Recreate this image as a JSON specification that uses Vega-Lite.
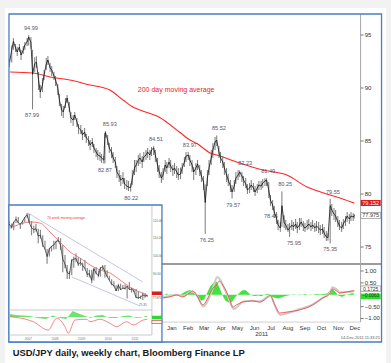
{
"$schema":"https://vega.github.io/schema/vega-lite/v6.json",
"width":391,"height":363,
"autosize":{"type":"fit","contains":"padding"},
"padding":0,
"background":"#f2f2f2",
"config":{"view":{"stroke":null},"font":"Liberation Sans"},
"datasets":{
"price":[
{"date":"2010-03-25","high":92.8,"low":92.0,"close":92.4},
{"date":"2010-03-29","high":94.0,"low":92.4,"close":93.6},
{"date":"2010-04-01","high":94.7,"low":93.6,"close":94.4},
{"date":"2010-04-05","high":94.15,"low":93.4,"close":93.77},
{"date":"2010-04-08","high":93.87,"low":93.02,"close":93.4},
{"date":"2010-04-12","high":94.15,"low":93.4,"close":93.87},
{"date":"2010-04-15","high":93.58,"low":92.64,"close":93.11},
{"date":"2010-04-19","high":93.96,"low":93.21,"close":93.58},
{"date":"2010-04-22","high":94.34,"low":93.58,"close":94.06},
{"date":"2010-04-26","high":94.72,"low":93.96,"close":94.34},
{"date":"2010-04-29","high":94.99,"low":94.0,"close":94.81},
{"date":"2010-05-03","high":94.8,"low":93.7,"close":94.3},
{"date":"2010-05-06","high":93.6,"low":87.99,"close":91.3},
{"date":"2010-05-10","high":92.9,"low":91.5,"close":92.3},
{"date":"2010-05-13","high":93.0,"low":91.89,"close":92.45},
{"date":"2010-05-17","high":91.51,"low":89.81,"close":90.75},
{"date":"2010-05-20","high":90.28,"low":89.06,"close":89.62},
{"date":"2010-05-24","high":90.94,"low":89.62,"close":90.28},
{"date":"2010-05-27","high":91.7,"low":90.75,"close":91.23},
{"date":"2010-05-31","high":92.83,"low":91.7,"close":92.26},
{"date":"2010-06-03","high":93.02,"low":92.17,"close":92.64},
{"date":"2010-06-07","high":92.36,"low":91.51,"close":91.89},
{"date":"2010-06-10","high":92.08,"low":91.13,"close":91.7},
{"date":"2010-06-14","high":91.51,"low":90.75,"close":91.13},
{"date":"2010-06-17","high":91.13,"low":90.19,"close":90.75},
{"date":"2010-06-21","high":90.38,"low":89.34,"close":90.0},
{"date":"2010-06-24","high":89.43,"low":88.3,"close":88.87},
{"date":"2010-06-28","high":88.49,"low":87.36,"close":87.92},
{"date":"2010-07-01","high":88.3,"low":87.17,"close":87.74},
{"date":"2010-07-05","high":89.06,"low":88.11,"close":88.49},
{"date":"2010-07-08","high":89.34,"low":88.58,"close":89.06},
{"date":"2010-07-12","high":88.68,"low":87.74,"close":88.11},
{"date":"2010-07-15","high":87.74,"low":86.7,"close":87.17},
{"date":"2010-07-19","high":87.45,"low":86.42,"close":86.98},
{"date":"2010-07-22","high":87.74,"low":86.98,"close":87.45},
{"date":"2010-07-26","high":87.17,"low":86.32,"close":86.79},
{"date":"2010-07-29","high":86.6,"low":85.66,"close":86.23},
{"date":"2010-08-02","high":86.51,"low":85.66,"close":86.04},
{"date":"2010-08-05","high":86.04,"low":85.09,"close":85.57},
{"date":"2010-08-09","high":86.23,"low":85.38,"close":85.85},
{"date":"2010-08-12","high":85.66,"low":84.81,"close":85.28},
{"date":"2010-08-16","high":85.47,"low":84.53,"close":85.09},
{"date":"2010-08-19","high":85.09,"low":84.15,"close":84.62},
{"date":"2010-08-23","high":85.28,"low":84.43,"close":84.91},
{"date":"2010-08-26","high":84.72,"low":83.87,"close":84.34},
{"date":"2010-08-30","high":84.34,"low":83.49,"close":83.96},
{"date":"2010-09-02","high":84.15,"low":83.21,"close":83.68},
{"date":"2010-09-06","high":83.96,"low":83.11,"close":83.58},
{"date":"2010-09-09","high":83.77,"low":82.92,"close":83.4},
{"date":"2010-09-13","high":83.6,"low":82.87,"close":83.2},
{"date":"2010-09-15","high":85.77,"low":82.9,"close":85.6},
{"date":"2010-09-16","high":85.93,"low":85.3,"close":85.8},
{"date":"2010-09-20","high":85.57,"low":84.62,"close":85.09},
{"date":"2010-09-23","high":84.81,"low":83.87,"close":84.34},
{"date":"2010-09-27","high":84.43,"low":83.4,"close":83.96},
{"date":"2010-09-30","high":83.96,"low":82.92,"close":83.4},
{"date":"2010-10-04","high":83.49,"low":82.45,"close":83.02},
{"date":"2010-10-07","high":82.64,"low":81.51,"close":82.08},
{"date":"2010-10-11","high":82.26,"low":81.13,"close":81.7},
{"date":"2010-10-14","high":81.79,"low":80.75,"close":81.32},
{"date":"2010-10-18","high":82.08,"low":80.94,"close":81.51},
{"date":"2010-10-21","high":81.51,"low":80.47,"close":80.94},
{"date":"2010-10-25","high":81.32,"low":80.38,"close":80.75},
{"date":"2010-10-28","high":81.23,"low":80.28,"close":80.66},
{"date":"2010-11-01","high":81.0,"low":80.22,"close":80.6},
{"date":"2010-11-04","high":82.26,"low":80.85,"close":81.51},
{"date":"2010-11-08","high":83.21,"low":81.79,"close":82.45},
{"date":"2010-11-11","high":83.21,"low":82.08,"close":82.74},
{"date":"2010-11-15","high":83.68,"low":82.64,"close":83.21},
{"date":"2010-11-18","high":83.87,"low":82.83,"close":83.4},
{"date":"2010-11-22","high":83.58,"low":82.45,"close":83.02},
{"date":"2010-11-25","high":83.96,"low":83.02,"close":83.49},
{"date":"2010-11-29","high":84.15,"low":83.21,"close":83.68},
{"date":"2010-12-02","high":84.34,"low":83.4,"close":83.96},
{"date":"2010-12-06","high":84.15,"low":83.21,"close":83.68},
{"date":"2010-12-09","high":84.43,"low":83.58,"close":84.15},
{"date":"2010-12-13","high":84.51,"low":83.68,"close":84.34},
{"date":"2010-12-16","high":84.15,"low":83.02,"close":83.68},
{"date":"2010-12-20","high":83.4,"low":82.08,"close":82.74},
{"date":"2010-12-23","high":82.74,"low":81.51,"close":82.08},
{"date":"2010-12-27","high":82.08,"low":81.04,"close":81.51},
{"date":"2010-12-30","high":82.45,"low":81.32,"close":81.79},
{"date":"2011-01-03","high":83.21,"low":82.08,"close":82.74},
{"date":"2011-01-06","high":83.02,"low":81.89,"close":82.45},
{"date":"2011-01-10","high":83.4,"low":82.45,"close":83.02},
{"date":"2011-01-13","high":83.21,"low":82.08,"close":82.64},
{"date":"2011-01-17","high":82.74,"low":81.7,"close":82.26},
{"date":"2011-01-20","high":82.92,"low":81.89,"close":82.45},
{"date":"2011-01-24","high":82.64,"low":81.51,"close":82.08},
{"date":"2011-01-27","high":82.45,"low":81.32,"close":81.79},
{"date":"2011-01-31","high":82.5,"low":81.4,"close":81.89},
{"date":"2011-02-03","high":82.92,"low":81.89,"close":82.45},
{"date":"2011-02-07","high":83.49,"low":82.55,"close":83.02},
{"date":"2011-02-10","high":83.96,"low":83.02,"close":83.58},
{"date":"2011-02-14","high":83.97,"low":83.21,"close":83.68},
{"date":"2011-02-17","high":83.68,"low":82.64,"close":83.21},
{"date":"2011-02-21","high":83.21,"low":82.08,"close":82.74},
{"date":"2011-02-24","high":82.55,"low":81.32,"close":82.08},
{"date":"2011-02-28","high":82.92,"low":81.79,"close":82.45},
{"date":"2011-03-03","high":83.21,"low":82.26,"close":82.83},
{"date":"2011-03-07","high":82.74,"low":81.7,"close":82.26},
{"date":"2011-03-10","high":82.26,"low":81.13,"close":81.7},
{"date":"2011-03-14","high":81.7,"low":80.38,"close":81.13},
{"date":"2011-03-17","high":80.9,"low":76.25,"close":79.2},
{"date":"2011-03-21","high":82.26,"low":80.75,"close":81.51},
{"date":"2011-03-24","high":83.21,"low":81.79,"close":82.45},
{"date":"2011-03-28","high":84.15,"low":82.74,"close":83.4},
{"date":"2011-03-31","high":84.81,"low":83.4,"close":84.15},
{"date":"2011-04-04","high":85.38,"low":84.15,"close":84.91},
{"date":"2011-04-07","high":85.52,"low":84.53,"close":85.09},
{"date":"2011-04-11","high":84.53,"low":83.4,"close":83.96},
{"date":"2011-04-14","high":83.96,"low":82.92,"close":83.4},
{"date":"2011-04-18","high":83.58,"low":82.45,"close":83.02},
{"date":"2011-04-21","high":83.02,"low":81.79,"close":82.45},
{"date":"2011-04-25","high":82.45,"low":81.13,"close":81.79},
{"date":"2011-04-28","high":81.89,"low":80.75,"close":81.32},
{"date":"2011-05-02","high":81.32,"low":80.19,"close":80.75},
{"date":"2011-05-05","high":80.85,"low":79.57,"close":80.19},
{"date":"2011-05-09","high":81.32,"low":80.19,"close":80.75},
{"date":"2011-05-12","high":82.08,"low":80.94,"close":81.51},
{"date":"2011-05-16","high":82.26,"low":81.32,"close":81.79},
{"date":"2011-05-19","high":82.23,"low":81.6,"close":82.08},
{"date":"2011-05-23","high":82.08,"low":81.13,"close":81.7},
{"date":"2011-05-26","high":81.7,"low":80.75,"close":81.32},
{"date":"2011-05-30","high":81.51,"low":80.57,"close":80.94},
{"date":"2011-06-02","high":80.94,"low":80.0,"close":80.38},
{"date":"2011-06-06","high":81.04,"low":80.09,"close":80.57},
{"date":"2011-06-09","high":81.32,"low":80.38,"close":80.85},
{"date":"2011-06-13","high":81.04,"low":80.19,"close":80.57},
{"date":"2011-06-16","high":80.75,"low":79.81,"close":80.19},
{"date":"2011-06-20","high":80.94,"low":80.09,"close":80.57},
{"date":"2011-06-23","high":81.23,"low":80.38,"close":80.85},
{"date":"2011-06-27","high":81.23,"low":80.38,"close":80.75},
{"date":"2011-06-30","high":81.42,"low":80.57,"close":81.04},
{"date":"2011-07-04","high":81.49,"low":80.75,"close":81.23},
{"date":"2011-07-07","high":81.49,"low":80.75,"close":81.32},
{"date":"2011-07-11","high":81.13,"low":79.62,"close":80.38},
{"date":"2011-07-14","high":79.91,"low":78.87,"close":79.43},
{"date":"2011-07-18","high":79.43,"low":78.49,"close":78.96},
{"date":"2011-07-21","high":78.87,"low":77.74,"close":78.3},
{"date":"2011-07-25","high":78.3,"low":77.17,"close":77.74},
{"date":"2011-07-28","high":77.55,"low":76.6,"close":77.08},
{"date":"2011-08-01","high":77.36,"low":76.42,"close":76.79},
{"date":"2011-08-04","high":80.25,"low":76.9,"close":78.9},
{"date":"2011-08-08","high":78.0,"low":76.8,"close":77.3},
{"date":"2011-08-11","high":77.55,"low":76.6,"close":77.08},
{"date":"2011-08-15","high":77.17,"low":76.42,"close":76.6},
{"date":"2011-08-18","high":77.26,"low":75.95,"close":76.79},
{"date":"2011-08-22","high":77.55,"low":76.6,"close":77.08},
{"date":"2011-08-25","high":77.36,"low":76.51,"close":76.89},
{"date":"2011-08-29","high":77.64,"low":76.7,"close":77.17},
{"date":"2011-09-01","high":77.36,"low":76.32,"close":76.79},
{"date":"2011-09-05","high":77.74,"low":76.6,"close":77.08},
{"date":"2011-09-08","high":77.74,"low":76.89,"close":77.36},
{"date":"2011-09-12","high":77.45,"low":76.51,"close":76.98},
{"date":"2011-09-15","high":77.26,"low":76.42,"close":76.79},
{"date":"2011-09-19","high":77.55,"low":76.6,"close":76.98},
{"date":"2011-09-22","high":77.64,"low":76.7,"close":77.17},
{"date":"2011-09-26","high":77.36,"low":76.51,"close":76.89},
{"date":"2011-09-29","high":77.55,"low":76.7,"close":77.08},
{"date":"2011-10-03","high":77.26,"low":76.42,"close":76.79},
{"date":"2011-10-06","high":77.45,"low":76.51,"close":76.98},
{"date":"2011-10-10","high":77.36,"low":76.32,"close":76.79},
{"date":"2011-10-13","high":77.08,"low":76.13,"close":76.6},
{"date":"2011-10-17","high":77.17,"low":76.23,"close":76.7},
{"date":"2011-10-20","high":76.89,"low":75.85,"close":76.32},
{"date":"2011-10-24","high":76.51,"low":75.57,"close":75.94},
{"date":"2011-10-27","high":76.3,"low":75.6,"close":75.9},
{"date":"2011-10-31","high":79.55,"low":75.35,"close":78.9},
{"date":"2011-11-03","high":79.06,"low":77.92,"close":78.49},
{"date":"2011-11-07","high":78.68,"low":77.55,"close":78.11},
{"date":"2011-11-10","high":78.49,"low":77.36,"close":77.92},
{"date":"2011-11-14","high":77.92,"low":76.89,"close":77.36},
{"date":"2011-11-17","high":77.55,"low":76.6,"close":76.98},
{"date":"2011-11-21","high":77.36,"low":76.42,"close":76.79},
{"date":"2011-11-24","high":77.64,"low":76.7,"close":77.17},
{"date":"2011-11-28","high":77.92,"low":76.98,"close":77.55},
{"date":"2011-12-01","high":78.3,"low":77.36,"close":77.92},
{"date":"2011-12-05","high":78.11,"low":77.17,"close":77.64},
{"date":"2011-12-08","high":78.3,"low":77.45,"close":77.92},
{"date":"2011-12-12","high":78.2,"low":77.45,"close":77.83},
{"date":"2011-12-14","high":78.1,"low":77.7,"close":77.975}
],
"ma":[
{"date":"2010-03-26","v":91.51},{"date":"2010-05-07","v":91.42},{"date":"2010-06-07","v":91.04},{"date":"2010-07-13","v":90.75},{"date":"2010-08-19","v":90.28},{"date":"2010-09-24","v":89.81},{"date":"2010-10-18","v":88.87},{"date":"2010-11-05","v":88.21},{"date":"2010-11-18","v":87.92},{"date":"2010-12-24","v":87.22},{"date":"2011-01-30","v":85.8},{"date":"2011-02-17","v":85.09},{"date":"2011-03-02","v":84.76},{"date":"2011-03-26","v":83.87},{"date":"2011-04-13","v":83.58},{"date":"2011-05-19","v":82.92},{"date":"2011-06-30","v":82.26},{"date":"2011-08-13","v":81.79},{"date":"2011-09-19","v":80.66},{"date":"2011-10-31","v":79.91},{"date":"2011-11-23","v":79.53},{"date":"2011-12-14","v":79.15}
],
"highs":[
{"date":"2010-05-03","value":94.99},{"date":"2010-09-24","value":85.93},{"date":"2010-12-17","value":84.51},{"date":"2011-02-17","value":83.97},{"date":"2011-04-11","value":85.52},{"date":"2011-05-29","value":82.23},{"date":"2011-07-10","value":81.49},{"date":"2011-08-10","value":80.25},{"date":"2011-11-05","value":79.55}
],
"lows":[
{"date":"2010-05-05","value":87.99},{"date":"2010-09-15","value":82.87},{"date":"2010-11-02","value":80.22},{"date":"2011-03-20","value":76.25},{"date":"2011-05-07","value":79.57},{"date":"2011-07-15","value":78.46},{"date":"2011-08-26","value":75.95},{"date":"2011-10-31","value":75.35}
],
"yticks":[{"v":95},{"v":90},{"v":85},{"v":80},{"v":75}],
"months":[
{"date":"2011-01-15","m":"Jan"},{"date":"2011-02-14","m":"Feb"},{"date":"2011-03-15","m":"Mar"},{"date":"2011-04-15","m":"Apr"},{"date":"2011-05-15","m":"May"},{"date":"2011-06-15","m":"Jun"},{"date":"2011-07-15","m":"Jul"},{"date":"2011-08-15","m":"Aug"},{"date":"2011-09-15","m":"Sep"},{"date":"2011-10-15","m":"Oct"},{"date":"2011-11-15","m":"Nov"},{"date":"2011-12-15","m":"Dec"}
],
"osc":[
{"date":"2010-12-29","v":-0.14},{"date":"2011-01-11","v":-0.09},{"date":"2011-01-24","v":-0.01},{"date":"2011-02-04","v":-0.09},{"date":"2011-02-16","v":0.07},{"date":"2011-02-22","v":0.16},{"date":"2011-03-01","v":-0.01},{"date":"2011-03-13","v":-0.43},{"date":"2011-03-20","v":-0.22},{"date":"2011-03-31","v":0.28},{"date":"2011-04-07","v":0.41},{"date":"2011-04-12","v":0.58},{"date":"2011-04-18","v":0.41},{"date":"2011-04-25","v":0.12},{"date":"2011-05-01","v":-0.22},{"date":"2011-05-06","v":-0.52},{"date":"2011-05-13","v":-0.43},{"date":"2011-05-24","v":-0.31},{"date":"2011-06-12","v":-0.26},{"date":"2011-06-24","v":-0.31},{"date":"2011-07-07","v":-0.14},{"date":"2011-07-13","v":-0.01},{"date":"2011-07-22","v":-0.43},{"date":"2011-07-31","v":-0.77},{"date":"2011-08-13","v":-0.73},{"date":"2011-09-05","v":-0.64},{"date":"2011-09-29","v":-0.43},{"date":"2011-10-17","v":-0.14},{"date":"2011-10-30","v":0.03},{"date":"2011-11-04","v":0.24},{"date":"2011-11-12","v":0.16},{"date":"2011-11-17","v":0.07},{"date":"2011-11-30","v":0.12},{"date":"2011-12-11","v":0.16},{"date":"2011-12-14","v":0.1725}
],
"sig":[
{"date":"2010-12-29","v":-0.1},{"date":"2011-01-12","v":-0.05},{"date":"2011-01-25","v":0.0},{"date":"2011-02-05","v":-0.05},{"date":"2011-02-18","v":0.12},{"date":"2011-02-24","v":0.12},{"date":"2011-03-03","v":-0.08},{"date":"2011-03-14","v":-0.5},{"date":"2011-03-21","v":-0.3},{"date":"2011-04-01","v":0.35},{"date":"2011-04-08","v":0.75},{"date":"2011-04-13","v":0.65},{"date":"2011-04-20","v":0.3},{"date":"2011-04-27","v":-0.05},{"date":"2011-05-03","v":-0.4},{"date":"2011-05-08","v":-0.6},{"date":"2011-05-15","v":-0.5},{"date":"2011-05-25","v":-0.28},{"date":"2011-06-12","v":-0.25},{"date":"2011-06-25","v":-0.28},{"date":"2011-07-08","v":-0.1},{"date":"2011-07-14","v":-0.05},{"date":"2011-07-23","v":-0.5},{"date":"2011-08-01","v":-0.85},{"date":"2011-08-14","v":-0.78},{"date":"2011-09-06","v":-0.6},{"date":"2011-09-30","v":-0.4},{"date":"2011-10-18","v":-0.12},{"date":"2011-10-31","v":0.1},{"date":"2011-11-04","v":0.32},{"date":"2011-11-13","v":0.2},{"date":"2011-11-18","v":0.1},{"date":"2011-12-01","v":0.12},{"date":"2011-12-14","v":0.15}
],
"hist":[
{"date":"2010-12-29","v":-0.05},{"date":"2011-01-06","v":0.05},{"date":"2011-01-13","v":-0.08},{"date":"2011-01-20","v":0.04},{"date":"2011-01-27","v":-0.03},{"date":"2011-02-03","v":0.05},{"date":"2011-02-10","v":0.15},{"date":"2011-02-17","v":0.2},{"date":"2011-02-24","v":0.08},{"date":"2011-03-03","v":-0.1},{"date":"2011-03-10","v":-0.25},{"date":"2011-03-15","v":-0.2},{"date":"2011-03-20","v":0.05},{"date":"2011-03-26","v":0.35},{"date":"2011-04-01","v":0.5},{"date":"2011-04-07","v":0.55},{"date":"2011-04-12","v":0.3},{"date":"2011-04-18","v":-0.05},{"date":"2011-04-23","v":-0.25},{"date":"2011-04-29","v":-0.33},{"date":"2011-05-05","v":-0.3},{"date":"2011-05-11","v":-0.1},{"date":"2011-05-17","v":0.05},{"date":"2011-05-23","v":0.18},{"date":"2011-05-29","v":0.2},{"date":"2011-06-04","v":0.08},{"date":"2011-06-10","v":-0.03},{"date":"2011-06-16","v":-0.05},{"date":"2011-06-22","v":-0.03},{"date":"2011-06-28","v":-0.06},{"date":"2011-07-04","v":0.02},{"date":"2011-07-10","v":0.04},{"date":"2011-07-16","v":-0.08},{"date":"2011-07-22","v":-0.13},{"date":"2011-07-28","v":-0.16},{"date":"2011-08-03","v":-0.12},{"date":"2011-08-09","v":-0.06},{"date":"2011-08-15","v":-0.03},{"date":"2011-08-25","v":0.02},{"date":"2011-09-05","v":-0.02},{"date":"2011-09-15","v":0.03},{"date":"2011-09-25","v":-0.02},{"date":"2011-10-05","v":0.03},{"date":"2011-10-15","v":0.02},{"date":"2011-10-25","v":0.05},{"date":"2011-10-31","v":0.18},{"date":"2011-11-04","v":0.25},{"date":"2011-11-10","v":0.1},{"date":"2011-11-16","v":-0.05},{"date":"2011-11-22","v":-0.08},{"date":"2011-11-28","v":-0.02},{"date":"2011-12-04","v":0.03},{"date":"2011-12-10","v":0.06},{"date":"2011-12-14","v":0.04}
],
"oticks":[{"v":1},{"v":0.5},{"v":-0.5},{"v":-1}],
"inset":[
{"date":"2006-10-15","high":119.9,"low":117.0,"close":117.8},
{"date":"2006-11-15","high":118.2,"low":115.4,"close":116.1},
{"date":"2006-12-15","high":119.2,"low":114.4,"close":119.0},
{"date":"2007-01-15","high":122.2,"low":118.5,"close":120.7},
{"date":"2007-02-15","high":121.9,"low":118.3,"close":118.6},
{"date":"2007-03-15","high":118.4,"low":115.2,"close":117.8},
{"date":"2007-04-15","high":119.9,"low":117.6,"close":119.5},
{"date":"2007-05-15","high":121.9,"low":119.1,"close":121.7},
{"date":"2007-06-15","high":124.1,"low":121.5,"close":123.2},
{"date":"2007-07-15","high":123.6,"low":118.5,"close":118.7},
{"date":"2007-08-15","high":119.6,"low":111.6,"close":115.8},
{"date":"2007-09-15","high":117.0,"low":112.7,"close":114.8},
{"date":"2007-10-15","high":117.9,"low":113.8,"close":115.3},
{"date":"2007-11-15","high":115.3,"low":107.2,"close":111.2},
{"date":"2007-12-15","high":114.7,"low":109.8,"close":111.7},
{"date":"2008-01-15","high":111.7,"low":105.0,"close":106.4},
{"date":"2008-02-15","high":108.6,"low":103.7,"close":104.0},
{"date":"2008-03-15","high":104.0,"low":95.7,"close":99.7},
{"date":"2008-04-15","high":104.7,"low":99.8,"close":103.9},
{"date":"2008-05-15","high":105.7,"low":102.5,"close":105.5},
{"date":"2008-06-15","high":108.6,"low":103.6,"close":106.2},
{"date":"2008-07-15","high":108.6,"low":103.8,"close":108.1},
{"date":"2008-08-15","high":110.7,"low":107.7,"close":108.8},
{"date":"2008-09-15","high":110.0,"low":103.5,"close":106.0},
{"date":"2008-10-15","high":106.2,"low":90.9,"close":98.4},
{"date":"2008-11-15","high":100.6,"low":93.2,"close":95.5},
{"date":"2008-12-15","high":95.0,"low":87.1,"close":90.7},
{"date":"2009-01-15","high":91.5,"low":87.1,"close":89.9},
{"date":"2009-02-15","high":98.4,"low":89.2,"close":97.6},
{"date":"2009-03-15","high":99.7,"low":93.5,"close":98.2},
{"date":"2009-04-15","high":101.4,"low":96.5,"close":98.6},
{"date":"2009-05-15","high":99.3,"low":94.4,"close":95.3},
{"date":"2009-06-15","high":98.9,"low":94.5,"close":96.4},
{"date":"2009-07-15","high":96.4,"low":91.7,"close":94.7},
{"date":"2009-08-15","high":97.8,"low":92.6,"close":93.0},
{"date":"2009-09-15","high":93.3,"low":88.2,"close":89.7},
{"date":"2009-10-15","high":92.3,"low":88.0,"close":90.1},
{"date":"2009-11-15","high":92.3,"low":84.8,"close":86.3},
{"date":"2009-12-15","high":93.1,"low":86.3,"close":93.0},
{"date":"2010-01-15","high":93.8,"low":89.8,"close":90.3},
{"date":"2010-02-15","high":91.9,"low":88.1,"close":88.9},
{"date":"2010-03-15","high":93.7,"low":88.4,"close":93.4},
{"date":"2010-04-15","high":95.0,"low":92.0,"close":94.0},
{"date":"2010-05-15","high":94.99,"low":88.0,"close":91.3},
{"date":"2010-06-15","high":92.1,"low":88.2,"close":88.4},
{"date":"2010-07-15","high":89.0,"low":86.3,"close":86.4},
{"date":"2010-08-15","high":87.0,"low":83.6,"close":84.2},
{"date":"2010-09-15","high":85.9,"low":82.9,"close":83.5},
{"date":"2010-10-15","high":83.6,"low":80.4,"close":80.4},
{"date":"2010-11-15","high":84.4,"low":80.2,"close":83.7},
{"date":"2010-12-15","high":84.5,"low":81.0,"close":81.1},
{"date":"2011-01-15","high":83.7,"low":81.6,"close":82.0},
{"date":"2011-02-15","high":84.0,"low":81.2,"close":81.8},
{"date":"2011-03-15","high":83.3,"low":76.25,"close":83.1},
{"date":"2011-04-15","high":85.5,"low":81.2,"close":81.2},
{"date":"2011-05-15","high":82.2,"low":79.6,"close":81.5},
{"date":"2011-06-15","high":81.6,"low":79.7,"close":80.5},
{"date":"2011-07-15","high":81.5,"low":76.6,"close":76.7},
{"date":"2011-08-15","high":80.25,"low":75.95,"close":76.6},
{"date":"2011-09-15","high":77.8,"low":75.9,"close":77.0},
{"date":"2011-10-15","high":79.55,"low":75.35,"close":78.2},
{"date":"2011-11-15","high":79.1,"low":76.6,"close":77.6},
{"date":"2011-12-14","high":78.3,"low":77.1,"close":78.0}
],
"ima":[
{"date":"2006-10-23","v":115.7},{"date":"2007-02-15","v":117.5},{"date":"2007-07-24","v":119.1},{"date":"2007-12-09","v":118.5},{"date":"2008-04-22","v":113.5},{"date":"2008-09-08","v":107.9},{"date":"2009-01-23","v":102.3},{"date":"2009-06-07","v":98.9},{"date":"2009-10-23","v":95.0},{"date":"2010-03-08","v":92.2},{"date":"2010-07-23","v":90.5},{"date":"2010-12-07","v":86.6},{"date":"2011-04-23","v":82.6},{"date":"2011-09-06","v":79.8},{"date":"2011-12-09","v":78.2}
],
"ichan":[
{"date":"2007-06-27","v":124.1,"g":"upper"},{"date":"2011-10-16","v":85.45,"g":"upper"},{"date":"2009-02-19","v":88.25,"g":"lower"},{"date":"2011-09-06","v":72.0,"g":"lower"}
],
"iticks":[{"v":120},{"v":110},{"v":100},{"v":90}],
"iyears":[{"date":"2007-07-01","t":"2007"},{"date":"2008-07-01","t":"2008"},{"date":"2009-07-01","t":"2009"},{"date":"2010-07-01","t":"2010"},{"date":"2011-07-01","t":"2011"}],
"iosc":[
{"date":"2006-10-23","v":0.03},{"date":"2007-09-08","v":-0.47},{"date":"2008-03-31","v":-1.3},{"date":"2008-07-24","v":-0.13},{"date":"2008-11-14","v":-0.97},{"date":"2008-12-30","v":-1.63},{"date":"2009-03-31","v":-0.3},{"date":"2009-09-07","v":-0.23},{"date":"2009-10-23","v":-0.47},{"date":"2010-03-08","v":-0.23},{"date":"2010-07-23","v":-0.63},{"date":"2010-10-23","v":-0.97},{"date":"2011-03-08","v":-0.47},{"date":"2011-06-07","v":-0.8},{"date":"2011-10-21","v":-0.3},{"date":"2011-12-14","v":-0.23}
],
"ihist":[
{"date":"2006-10-23","v":0.3},{"date":"2007-01-15","v":0.2},{"date":"2007-05-01","v":0.15},{"date":"2007-08-01","v":0.1},{"date":"2007-11-01","v":-0.1},{"date":"2008-03-01","v":-0.2},{"date":"2008-06-01","v":0.15},{"date":"2008-09-01","v":-0.1},{"date":"2008-12-01","v":-0.2},{"date":"2009-01-15","v":0.2},{"date":"2009-03-01","v":0.6},{"date":"2009-05-01","v":0.4},{"date":"2009-08-01","v":0.15},{"date":"2009-11-01","v":-0.1},{"date":"2010-01-15","v":0.15},{"date":"2010-04-15","v":0.2},{"date":"2010-07-15","v":-0.1},{"date":"2010-10-15","v":-0.1},{"date":"2011-01-15","v":0.1},{"date":"2011-04-15","v":0.15},{"date":"2011-07-15","v":-0.1},{"date":"2011-10-01","v":-0.05},{"date":"2011-12-14","v":0.15}
]
},
"layer":[
{"layer":[
{"data":{"values":[{}]},"mark":{"type":"rect","fill":"#ffffff"},"encoding":{
"x":{"datum":{"year":2010,"month":3,"date":17},"type":"temporal","scale":{"domain":[{"year":2010,"month":3,"date":7,"hours":14},{"year":2012,"month":2,"date":19}],"nice":false},"axis":null},
"x2":{"datum":{"year":2012,"month":2,"date":10}},
"y":{"datum":97.55,"type":"quantitative","scale":{"domain":[64.06,98.3],"nice":false,"zero":false},"axis":null},
"y2":{"datum":64.06}}},
{"data":{"values":[{}]},"mark":{"type":"rule","stroke":"#9b9b9b","strokeWidth":2},"encoding":{
"x":{"datum":{"year":2010,"month":12,"date":28},"type":"temporal"},
"x2":{"datum":{"year":2012,"month":2,"date":1,"hours":17}},
"y":{"datum":73.39,"type":"quantitative"}}},
{"data":{"values":[{}]},"mark":{"type":"rule","stroke":"#d0d0d0","strokeWidth":1},"encoding":{
"x":{"datum":{"year":2010,"month":12,"date":28},"type":"temporal"},
"x2":{"datum":{"year":2011,"month":12,"date":25,"hours":12}},
"y":{"datum":67.92,"type":"quantitative"}}},
{"data":{"values":[{}]},"mark":{"type":"rule","stroke":"#a8a8a8","strokeWidth":1},"encoding":{
"x":{"datum":{"year":2011,"month":12,"date":25,"hours":12},"type":"temporal"},
"y":{"datum":96.98,"type":"quantitative"},
"y2":{"datum":67.92}}},
{"data":{"name":"ma"},"mark":{"type":"line","stroke":"#ff2626","strokeWidth":1.1,"interpolate":"monotone"},"encoding":{
"x":{"field":"date","type":"temporal"},
"y":{"field":"v","type":"quantitative"}}},
{"data":{"values":[{}]},"mark":{"type":"text","text":"200 day moving average","fontSize":7,"color":"#ee2222","align":"center","baseline":"middle"},"encoding":{
"x":{"datum":{"year":2011,"month":1,"date":23},"type":"temporal"},
"y":{"datum":89.81,"type":"quantitative"}}},
{"data":{"name":"highs"},"mark":{"type":"text","fontSize":5.6,"color":"#55566e","baseline":"middle","dy":-7},"encoding":{
"x":{"field":"date","type":"temporal"},
"y":{"field":"value","type":"quantitative"},
"text":{"field":"value","type":"quantitative","format":".2f"}}},
{"data":{"name":"lows"},"mark":{"type":"text","fontSize":5.6,"color":"#55566e","baseline":"middle","dy":6},"encoding":{
"x":{"field":"date","type":"temporal"},
"y":{"field":"value","type":"quantitative"},
"text":{"field":"value","type":"quantitative","format":".2f"}}},
{"data":{"name":"price"},"mark":{"type":"rule","stroke":"#7a7a7a","strokeWidth":1},"encoding":{
"x":{"field":"date","type":"temporal"},
"y":{"field":"low","type":"quantitative"},
"y2":{"field":"high"}}},
{"data":{"name":"price"},"mark":{"type":"line","stroke":"#111111","strokeWidth":0.8},"encoding":{
"x":{"field":"date","type":"temporal"},
"y":{"field":"close","type":"quantitative"}}},
{"data":{"name":"yticks"},"mark":{"type":"rule","stroke":"#777777","strokeWidth":1},"encoding":{
"x":{"datum":{"year":2011,"month":12,"date":25,"hours":12},"type":"temporal"},
"x2":{"datum":{"year":2011,"month":12,"date":31}},
"y":{"field":"v","type":"quantitative"}}},
{"data":{"name":"yticks"},"mark":{"type":"text","fontSize":6,"color":"#333333","align":"left","baseline":"middle"},"encoding":{
"x":{"datum":{"year":2012,"month":1,"date":2},"type":"temporal"},
"y":{"field":"v","type":"quantitative"},
"text":{"field":"v","type":"quantitative","format":".0f"}}},
{"data":{"values":[{"value":79.152}]},"mark":{"type":"rect","fill":"#e01b1b","width":20,"height":6},"encoding":{
"x":{"datum":{"year":2012,"month":1,"date":13},"type":"temporal"},
"y":{"field":"value","type":"quantitative"}}},
{"data":{"values":[{"value":79.152}]},"mark":{"type":"text","fontSize":5.5,"color":"#ffffff","align":"center","baseline":"middle"},"encoding":{
"x":{"datum":{"year":2012,"month":1,"date":13},"type":"temporal"},
"y":{"field":"value","type":"quantitative"},
"text":{"field":"value","type":"quantitative","format":".3f"}}},
{"data":{"values":[{"value":77.975}]},"mark":{"type":"rect","fill":"#ffffff","stroke":"#777777","strokeWidth":0.6,"width":20,"height":6},"encoding":{
"x":{"datum":{"year":2012,"month":1,"date":13},"type":"temporal"},
"y":{"field":"value","type":"quantitative"}}},
{"data":{"values":[{"value":77.975}]},"mark":{"type":"text","fontSize":5.5,"color":"#333333","align":"center","baseline":"middle"},"encoding":{
"x":{"datum":{"year":2012,"month":1,"date":13},"type":"temporal"},
"y":{"field":"value","type":"quantitative"},
"text":{"field":"value","type":"quantitative","format":".3f"}}},
{"data":{"name":"months"},"mark":{"type":"text","fontSize":6,"color":"#333333","align":"center","baseline":"middle"},"encoding":{
"x":{"field":"date","type":"temporal"},
"y":{"datum":67.38,"type":"quantitative"},
"text":{"field":"m","type":"nominal"}}},
{"data":{"values":[{"year":"2011"}]},"mark":{"type":"text","fontSize":6,"color":"#333333","align":"center","baseline":"middle"},"encoding":{
"x":{"datum":{"year":2011,"month":6,"date":28},"type":"temporal"},
"y":{"datum":66.79,"type":"quantitative"},
"text":{"field":"year","type":"nominal"}}},
{"data":{"values":[{}]},"mark":{"type":"text","text":"14-Dec-2011 11:33:21","fontSize":4,"color":"#555555","align":"right","baseline":"middle"},"encoding":{
"x":{"datum":{"year":2012,"month":1,"date":30},"type":"temporal"},
"y":{"datum":66.41,"type":"quantitative"}}},
{"data":{"values":[{}]},"mark":{"type":"text","text":"USD/JPY daily, weekly chart, Bloomberg Finance LP","fontSize":9.4,"fontWeight":"bold","color":"#1a1a1a","align":"left","baseline":"middle"},"encoding":{
"x":{"datum":{"year":2010,"month":3,"date":30,"hours":18},"type":"temporal"},
"y":{"datum":65.0,"type":"quantitative"}}},
{"data":{"values":[{}]},"mark":{"type":"rect","fill":null,"fillOpacity":0,"stroke":"#4a7dc0","strokeWidth":1.3},"encoding":{
"x":{"datum":{"year":2010,"month":3,"date":24},"type":"temporal"},
"x2":{"datum":{"year":2012,"month":2,"date":1,"hours":17}},
"y":{"datum":96.98,"type":"quantitative"},
"y2":{"datum":66.04}}}
]},
{"layer":[
{"data":{"name":"hist"},"mark":{"type":"area","color":"#35e335","opacity":0.95},"encoding":{
"x":{"field":"date","type":"temporal","scale":{"domain":[{"year":2010,"month":3,"date":7,"hours":14},{"year":2012,"month":2,"date":19}],"nice":false},"axis":null},
"y":{"field":"v","type":"quantitative","scale":{"domain":[-2.874,12.411],"nice":false,"zero":false},"axis":null},
"y2":{"datum":0}}},
{"data":{"name":"sig"},"mark":{"type":"line","stroke":"#cccccc","strokeWidth":2,"interpolate":"monotone"},"encoding":{
"x":{"field":"date","type":"temporal"},
"y":{"field":"v","type":"quantitative"}}},
{"data":{"name":"osc"},"mark":{"type":"line","stroke":"#f25a5a","strokeWidth":1,"interpolate":"monotone"},"encoding":{
"x":{"field":"date","type":"temporal"},
"y":{"field":"v","type":"quantitative"}}},
{"data":{"name":"oticks"},"mark":{"type":"rule","stroke":"#777777","strokeWidth":1},"encoding":{
"x":{"datum":{"year":2011,"month":12,"date":25,"hours":12},"type":"temporal"},
"x2":{"datum":{"year":2011,"month":12,"date":31}},
"y":{"field":"v","type":"quantitative"}}},
{"data":{"name":"oticks"},"mark":{"type":"text","fontSize":6,"color":"#333333","align":"left","baseline":"middle"},"encoding":{
"x":{"datum":{"year":2012,"month":1,"date":2},"type":"temporal"},
"y":{"field":"v","type":"quantitative"},
"text":{"field":"v","type":"quantitative","format":".2f"}}},
{"data":{"values":[{"value":0.1725}]},"mark":{"type":"rect","fill":"#ffffff","stroke":"#777777","strokeWidth":0.6,"width":20,"height":5.5,"yOffset":-2},"encoding":{
"x":{"datum":{"year":2012,"month":1,"date":13},"type":"temporal"},
"y":{"field":"value","type":"quantitative"}}},
{"data":{"values":[{"value":0.1725}]},"mark":{"type":"text","fontSize":5,"color":"#333333","align":"center","baseline":"middle","dy":-2},"encoding":{
"x":{"datum":{"year":2012,"month":1,"date":13},"type":"temporal"},
"y":{"field":"value","type":"quantitative"},
"text":{"field":"value","type":"quantitative","format":".4f"}}},
{"data":{"values":[{"value":-0.0063}]},"mark":{"type":"rect","fill":"#2fd82f","width":20,"height":5.5,"yOffset":1.5},"encoding":{
"x":{"datum":{"year":2012,"month":1,"date":13},"type":"temporal"},
"y":{"field":"value","type":"quantitative"}}},
{"data":{"values":[{"value":-0.0063}]},"mark":{"type":"text","fontSize":4.6,"color":"#1a3a1a","align":"center","baseline":"middle","dy":1.5},"encoding":{
"x":{"datum":{"year":2012,"month":1,"date":13},"type":"temporal"},
"y":{"field":"value","type":"quantitative"},
"text":{"field":"value","type":"quantitative","format":".4f"}}}
]},
{"layer":[
{"data":{"values":[{}]},"mark":{"type":"rect","fill":"#ffffff","stroke":"#4a7dc0","strokeWidth":1.3},"encoding":{
"x":{"datum":{"year":2006,"month":10,"date":10},"type":"temporal","scale":{"domain":[{"year":2006,"month":6,"date":10},{"year":2021,"month":1,"date":30}],"nice":false},"axis":null},
"x2":{"datum":{"year":2012,"month":7,"date":3}},
"y":{"datum":128.58,"type":"quantitative","scale":{"domain":[40.07,243.43],"nice":false,"zero":false},"axis":null},
"y2":{"datum":51.83}}},
{"data":{"values":[{}]},"mark":{"type":"rule","stroke":"#bbbbbb","strokeWidth":0.8},"encoding":{
"x":{"datum":{"year":2012,"month":2,"date":17},"type":"temporal"},
"y":{"datum":128.0,"type":"quantitative"},
"y2":{"datum":55.75}}},
{"data":{"values":[{"v":69.76},{"v":55.75}]},"mark":{"type":"rule","stroke":"#bbbbbb","strokeWidth":0.8},"encoding":{
"x":{"datum":{"year":2006,"month":10,"date":10},"type":"temporal"},
"x2":{"datum":{"year":2012,"month":2,"date":17}},
"y":{"field":"v","type":"quantitative"}}},
{"data":{"name":"ichan"},"mark":{"type":"line","stroke":"#b4b6e4","strokeWidth":0.8},"encoding":{
"x":{"field":"date","type":"temporal"},
"y":{"field":"v","type":"quantitative"},
"detail":{"field":"g","type":"nominal"}}},
{"data":{"name":"ima"},"mark":{"type":"line","stroke":"#f27070","strokeWidth":0.9,"interpolate":"monotone"},"encoding":{
"x":{"field":"date","type":"temporal"},
"y":{"field":"v","type":"quantitative"}}},
{"data":{"values":[{}]},"mark":{"type":"text","text":"70 week moving average","fontSize":3.4,"color":"#ee3333","align":"center","baseline":"middle"},"encoding":{
"x":{"datum":{"year":2008,"month":11,"date":28},"type":"temporal"},
"y":{"datum":121.3,"type":"quantitative"}}},
{"data":{"name":"inset"},"mark":{"type":"rule","stroke":"#8a8a8a","strokeWidth":1.2},"encoding":{
"x":{"field":"date","type":"temporal"},
"y":{"field":"low","type":"quantitative"},
"y2":{"field":"high"}}},
{"data":{"name":"inset"},"mark":{"type":"line","stroke":"#222222","strokeWidth":0.7},"encoding":{
"x":{"field":"date","type":"temporal"},
"y":{"field":"close","type":"quantitative"}}},
{"data":{"name":"iticks"},"mark":{"type":"text","fontSize":3,"color":"#666666","align":"left","baseline":"middle"},"encoding":{
"x":{"datum":{"year":2012,"month":3,"date":4},"type":"temporal"},
"y":{"field":"v","type":"quantitative"},
"text":{"field":"v","type":"quantitative","format":".2f"}}},
{"data":{"name":"iyears"},"mark":{"type":"text","fontSize":3.2,"color":"#777777","align":"center","baseline":"middle"},"encoding":{
"x":{"field":"date","type":"temporal"},
"y":{"datum":53.51,"type":"quantitative"},
"text":{"field":"t","type":"nominal"}}},
{"data":{"values":[{"value":75.35}]},"mark":{"type":"text","fontSize":3,"color":"#555555","align":"center","baseline":"middle","dy":5},"encoding":{
"x":{"datum":{"year":2011,"month":10,"date":16},"type":"temporal"},
"y":{"field":"value","type":"quantitative"},
"text":{"field":"value","type":"quantitative","format":".2f"}}},
{"data":{"values":[{"value":79.152}]},"mark":{"type":"rect","fill":"#e01b1b","width":10,"height":3.5},"encoding":{
"x":{"datum":{"year":2012,"month":4,"date":25},"type":"temporal"},
"y":{"field":"value","type":"quantitative"}}},
{"data":{"values":[{"value":77.975}]},"mark":{"type":"text","fontSize":2.8,"color":"#555555","align":"center","baseline":"middle","dy":2},"encoding":{
"x":{"datum":{"year":2012,"month":4,"date":25},"type":"temporal"},
"y":{"field":"value","type":"quantitative"},
"text":{"field":"value","type":"quantitative","format":".3f"}}}
]},
{"layer":[
{"data":{"name":"ihist"},"mark":{"type":"area","color":"#5fe05f","opacity":0.9},"encoding":{
"x":{"field":"date","type":"temporal","scale":{"domain":[{"year":2006,"month":6,"date":10},{"year":2021,"month":1,"date":30}],"nice":false},"axis":null},
"y":{"field":"v","type":"quantitative","scale":{"domain":[-4.6,31.7],"nice":false,"zero":false},"axis":null},
"y2":{"datum":0}}},
{"data":{"name":"iosc"},"mark":{"type":"line","stroke":"#f06a6a","strokeWidth":0.8,"interpolate":"monotone"},"encoding":{
"x":{"field":"date","type":"temporal"},
"y":{"field":"v","type":"quantitative"}}},
{"data":{"values":[{"value":-0.05}]},"mark":{"type":"rect","fill":"#2fd82f","width":10,"height":3.5},"encoding":{
"x":{"datum":{"year":2012,"month":4,"date":25},"type":"temporal"},
"y":{"field":"value","type":"quantitative"}}},
{"data":{"values":[{"value":-0.5}]},"mark":{"type":"rect","fill":"#ffffff","stroke":"#e01b1b","strokeWidth":0.6,"width":10,"height":3},"encoding":{
"x":{"datum":{"year":2012,"month":4,"date":25},"type":"temporal"},
"y":{"field":"value","type":"quantitative"}}}
]}
],
"resolve":{"scale":{"x":"independent","y":"independent"}}
}
